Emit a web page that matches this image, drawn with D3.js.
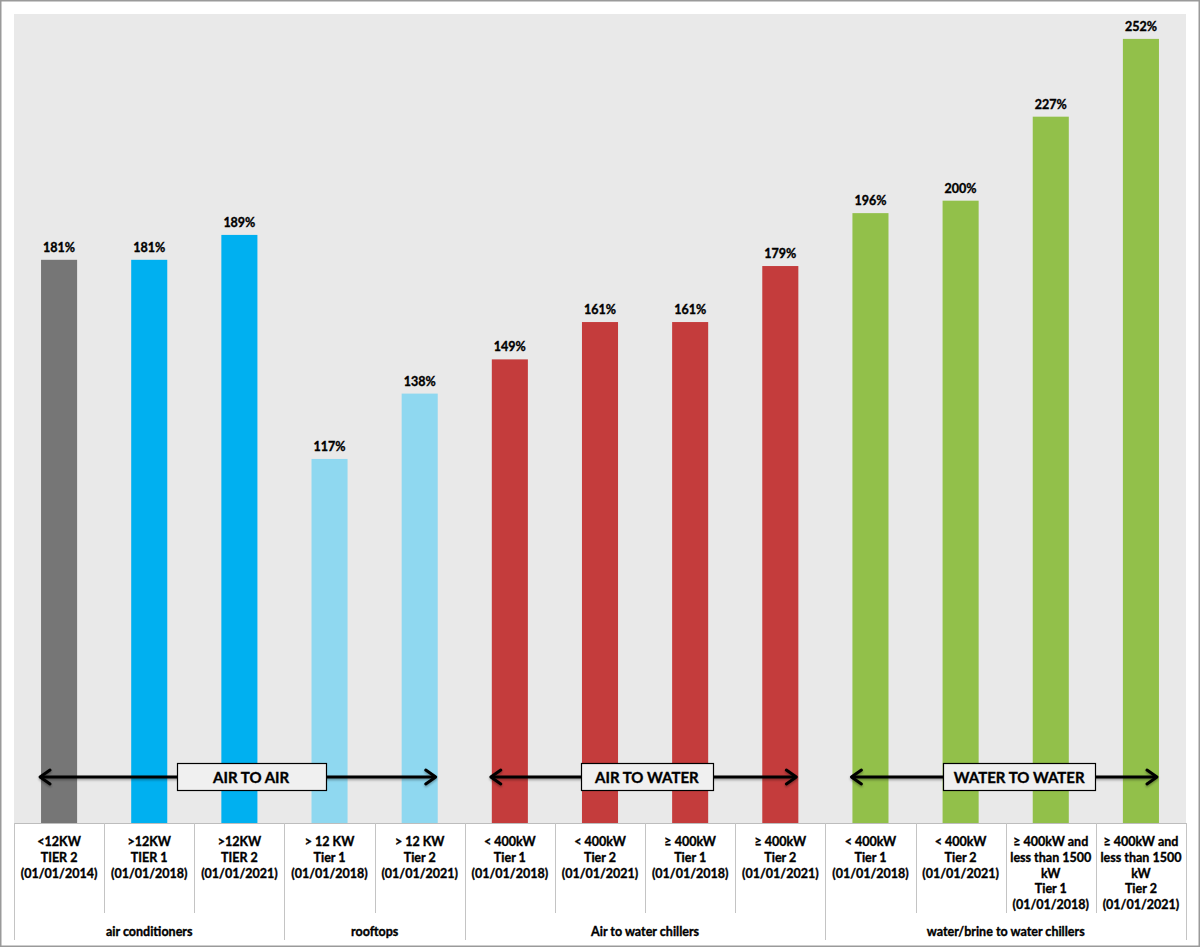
<!DOCTYPE html>
<html>
<head>
<meta charset="utf-8">
<script src="https://cdn.jsdelivr.net/npm/d3@7"></script>
<style>
  html, body { margin: 0; padding: 0; background: #fff; }
  svg { display: block; }
  text { font-family: Lato, "Open Sans", sans-serif; font-weight: bold; fill: #000; stroke: #000; stroke-width: 0.35px; }
</style>
</head>
<body>
<svg id="chart" width="1200" height="947"></svg>
<script>
// ---------- DATA ----------
const categories = [
  ["<12KW", "TIER 2", "(01/01/2014)"],
  [">12KW", "TIER 1", "(01/01/2018)"],
  [">12KW", "TIER 2", "(01/01/2021)"],
  ["> 12 KW", "Tier 1", "(01/01/2018)"],
  ["> 12 KW", "Tier 2", "(01/01/2021)"],
  ["< 400kW", "Tier 1", "(01/01/2018)"],
  ["< 400kW", "Tier 2", "(01/01/2021)"],
  ["≥ 400kW", "Tier 1", "(01/01/2018)"],
  ["≥ 400kW", "Tier 2", "(01/01/2021)"],
  ["< 400kW", "Tier 1", "(01/01/2018)"],
  ["< 400kW", "Tier 2", "(01/01/2021)"],
  ["≥ 400kW and", "less than 1500", "kW", "Tier 1", "(01/01/2018)"],
  ["≥ 400kW and", "less than 1500", "kW", "Tier 2", "(01/01/2021)"]
];
const values = [181, 181, 189, 117, 138, 149, 161, 161, 179, 196, 200, 227, 252];
const valueLabels = ["181%", "181%", "189%", "117%", "138%", "149%", "161%", "161%", "179%", "196%", "200%", "227%", "252%"];
const series = ["ac2014", "ac", "ac", "rooftop", "rooftop", "a2w", "a2w", "a2w", "a2w", "w2w", "w2w", "w2w", "w2w"];
const groupNames = ["air conditioners", "rooftops", "Air to water chillers", "water/brine to water chillers"];
const groupStarts = [0, 3, 5, 9];
const groupEnds = [2, 4, 8, 12];
const familyNames = ["AIR TO AIR", "AIR TO WATER", "WATER TO WATER"];
const familyStarts = [0, 5, 9];
const familyEnds = [4, 8, 12];

// ---------- LAYOUT / STYLE ----------
const W = 1200, H = 947;
const plot = { left: 14, right: 1186, top: 14, bottom: 823 };
const colors = d3.scaleOrdinal()
  .domain(["ac2014", "ac", "rooftop", "a2w", "w2w"])
  .range(["#767676", "#00b0f0", "#8fd8f0", "#c43c3c", "#92c04a"]);
const familyBox = [ {center: 2.63, width: 149}, {center: 7.02, width: 132}, {center: 11.15, width: 152} ];
const arrowY = 777;

const svg = d3.select("#chart");

const idx = d3.range(categories.length);
const xCell = d3.scaleBand().domain(idx).range([plot.left, plot.right]).padding(0);
const xBar = d3.scaleBand().domain(idx).range([plot.left, plot.right]).paddingInner(0.6).paddingOuter(0.3);
const y = d3.scaleLinear().domain([0, 260]).range([plot.bottom, plot.top]);
const step = xCell.step();
const xPos = f => plot.left + f * step;

// outer frame
svg.append("rect").attr("x", 0.75).attr("y", 0.75).attr("width", W - 1.5).attr("height", H - 1.5)
  .attr("fill", "#fff").attr("stroke", "#9a9a9a").attr("stroke-width", 1.5);

// plot background
svg.append("rect").attr("x", plot.left).attr("y", plot.top)
  .attr("width", plot.right - plot.left).attr("height", plot.bottom - plot.top)
  .attr("fill", "#e9e9e9");

// bars
svg.append("g").selectAll("rect").data(idx).join("rect")
  .attr("x", i => xBar(i))
  .attr("width", xBar.bandwidth())
  .attr("y", i => y(values[i]))
  .attr("height", i => y(0) - y(values[i]))
  .attr("fill", i => colors(series[i]));

// value labels
svg.append("g").selectAll("text").data(idx).join("text")
  .attr("x", i => xBar(i) + xBar.bandwidth() / 2)
  .attr("y", i => y(values[i]) - 8)
  .attr("text-anchor", "middle")
  .attr("font-size", 12.5)
  .text(i => valueLabels[i]);

// category axis
const axisG = svg.append("g");
axisG.append("line").attr("x1", plot.left).attr("x2", plot.right)
  .attr("y1", plot.bottom + 0.5).attr("y2", plot.bottom + 0.5)
  .attr("stroke", "#bdbdbd").attr("stroke-width", 1);

// inner tick separators
const boundaries = d3.range(categories.length + 1);
axisG.selectAll("line.sep").data(boundaries).join("line")
  .attr("class", "sep")
  .attr("x1", b => Math.round(xPos(b)) + 0.5)
  .attr("x2", b => Math.round(xPos(b)) + 0.5)
  .attr("y1", plot.bottom)
  .attr("y2", b => (b === 0 || groupStarts.includes(b) || b === categories.length) ? 940 : 913)
  .attr("stroke", "#c4c4c4").attr("stroke-width", 1);

// category labels
const catG = axisG.selectAll("text.cat").data(idx).join("text")
  .attr("class", "cat")
  .attr("text-anchor", "middle")
  .attr("font-size", 12.5)
  .attr("x", i => xCell(i) + step / 2)
  .attr("y", 846);
catG.selectAll("tspan").data(i => categories[i].map(t => ({t, x: xCell(i) + step / 2}))).join("tspan")
  .attr("x", d => d.x)
  .attr("dy", (d, j) => j === 0 ? 0 : 15.8)
  .text(d => d.t);

// group labels
axisG.selectAll("text.grp").data(groupNames).join("text")
  .attr("class", "grp")
  .attr("text-anchor", "middle")
  .attr("font-size", 12.5)
  .attr("x", (d, g) => (xPos(groupStarts[g]) + xPos(groupEnds[g] + 1)) / 2)
  .attr("y", 936)
  .text(d => d);

// arrows
const defs = svg.append("defs");
const flt = defs.append("filter").attr("id", "shadow").attr("x", "-10%").attr("y", "-50%").attr("width", "120%").attr("height", "200%");
flt.append("feDropShadow").attr("dx", 0).attr("dy", 1.5).attr("stdDeviation", 1.2).attr("flood-color", "#000").attr("flood-opacity", 0.35);

const famG = svg.append("g");
familyNames.forEach((name, k) => {
  const x1 = xBar(familyStarts[k]) - 1;
  const x2 = xBar(familyEnds[k]) + xBar.bandwidth() - 2;
  const g = famG.append("g").attr("filter", "url(#shadow)");
  g.append("line").attr("x1", x1 + 1).attr("x2", x2 - 1).attr("y1", arrowY).attr("y2", arrowY)
    .attr("stroke", "#000").attr("stroke-width", 3);
  g.append("path").attr("d", `M${x1 + 10},${arrowY - 7} L${x1},${arrowY} L${x1 + 10},${arrowY + 7}`)
    .attr("fill", "none").attr("stroke", "#000").attr("stroke-width", 3).attr("stroke-linecap", "round").attr("stroke-linejoin", "round");
  g.append("path").attr("d", `M${x2 - 10},${arrowY - 7} L${x2},${arrowY} L${x2 - 10},${arrowY + 7}`)
    .attr("fill", "none").attr("stroke", "#000").attr("stroke-width", 3).attr("stroke-linecap", "round").attr("stroke-linejoin", "round");
  const cx = xPos(familyBox[k].center);
  const bw = familyBox[k].width;
  famG.append("rect").attr("x", Math.round(cx - bw / 2) + 0.5).attr("y", 763.5)
    .attr("width", bw).attr("height", 27)
    .attr("fill", "#f0f0f0").attr("stroke", "#000").attr("stroke-width", 1.2);
  famG.append("text").attr("x", cx).attr("y", 782.5)
    .attr("text-anchor", "middle").attr("font-size", 15)
    .text(name);
});
</script>
</body>
</html>
